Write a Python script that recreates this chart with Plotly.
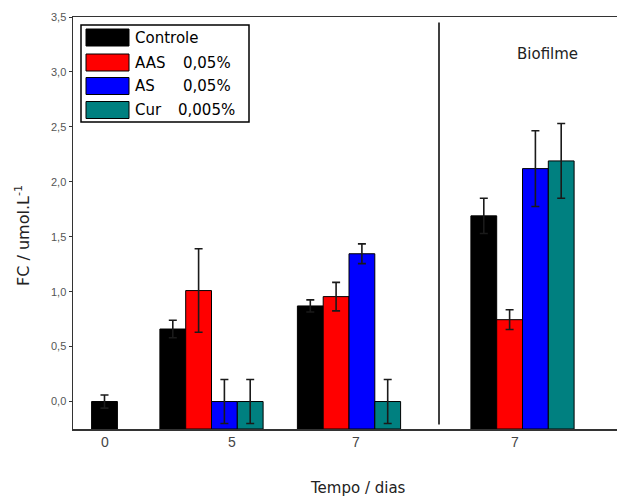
import plotly.graph_objects as go

# ---------------- data ----------------
group_labels = ["0", "5", "7", "7"]
series_names = ["Controle", "AAS", "AS", "Cur"]
series_conc = ["", "0,05%", "0,05%", "0,005%"]
controle = [0.0, 0.66, 0.87, 1.69]
controle_err = [0.06, 0.08, 0.055, 0.16]
aas = [None, 1.01, 0.955, 0.745]
aas_err = [None, 0.38, 0.13, 0.09]
as_vals = [None, 0.0, 1.345, 2.12]
as_err = [None, 0.2, 0.09, 0.345]
cur = [None, 0.0, 0.0, 2.19]
cur_err = [None, 0.2, 0.2, 0.34]
y_ticks = [0.0, 0.5, 1.0, 1.5, 2.0, 2.5, 3.0, 3.5]
y_tick_text = ["0,0", "0,5", "1,0", "1,5", "2,0", "2,5", "3,0", "3,5"]

# ---------------- layout constants ----------------
W, H = 617, 498
ML, MT, MB = 73, 17, 69
PLOT_W = W - ML
PLOT_H = H - MT - MB
YMIN, YMAX = -0.25, 3.5
GROUP_CENTERS = [104.5, 211.5, 349.0, 522.5]
TICK_POS = [105, 232, 356, 515]
BAR_W = 25.8
DIVIDER_X = 439
COLORS = ["#000000", "#ff0000", "#0000ff", "#008080"]
FONT = "Liberation Sans, Arial, sans-serif"
TFONT = "DejaVu Sans, Verdana, sans-serif"

values = [controle, aas, as_vals, cur]
errors = [controle_err, aas_err, as_err, cur_err]


def py(px):
    return (H - MB - px) / PLOT_H


def pxp(px):
    return (px - ML) / PLOT_W


fig = go.Figure()

for si, (vals, errs) in enumerate(zip(values, errors)):
    xs, hs, es = [], [], []
    for gi, v in enumerate(vals):
        if v is None:
            continue
        present = [k for k in range(len(values)) if values[k][gi] is not None]
        idx = present.index(si)
        off = (idx - (len(present) - 1) / 2) * BAR_W
        xs.append(GROUP_CENTERS[gi] + off)
        hs.append(v - YMIN)
        es.append(errs[gi])
    fig.add_trace(go.Bar(
        x=xs, y=hs, base=YMIN, width=BAR_W,
        marker=dict(color=COLORS[si], line=dict(color="#000000", width=1)),
        error_y=dict(type="data", array=es, visible=True, color="#1a1a1a",
                     thickness=1.6, width=4),
        showlegend=False, name=series_names[si], hoverinfo="skip",
    ))

fig.update_layout(
    width=W, height=H,
    margin=dict(l=ML, r=0, t=MT, b=MB),
    paper_bgcolor="white", plot_bgcolor="white",
    barmode="overlay",
    font=dict(family=FONT, color="#333333"),
    xaxis=dict(range=[ML, W], showgrid=False, zeroline=False,
               tickmode="array", tickvals=TICK_POS, ticktext=group_labels,
               ticks="", showline=True, linecolor="#333333", linewidth=1.5,
               mirror=True, tickfont=dict(size=14, color="#444444")),
    yaxis=dict(range=[YMIN, YMAX], showgrid=False, zeroline=False,
               tickmode="array", tickvals=y_ticks, ticktext=y_tick_text,
               ticks="outside", ticklen=3, tickwidth=1, tickcolor="#333333",
               showline=True, linecolor="#333333", linewidth=1.5,
               tickfont=dict(size=11, color="#555555")),
)

fig.add_shape(type="line", xref="x", yref="y", x0=DIVIDER_X, x1=DIVIDER_X,
              y0=3.45, y1=-0.21, line=dict(color="#000000", width=1.5))

fig.add_annotation(x=547, y=3.16, xref="x", yref="y", text="Biofilme",
                   showarrow=False, font=dict(family=TFONT, size=15, color="#222222"))

fig.add_annotation(x=pxp(358), y=py(488), xref="paper", yref="paper",
                   text="Tempo / dias", showarrow=False,
                   xanchor="center", yanchor="middle",
                   font=dict(family=TFONT, size=15, color="#222222"))
fig.add_annotation(x=pxp(22), y=py(236), xref="paper", yref="paper",
                   text="FC / umol.L<sup>-1</sup>", textangle=-90,
                   xanchor="center", yanchor="middle",
                   showarrow=False, font=dict(family=TFONT, size=16, color="#222222"))

fig.add_annotation(x=pxp(310), y=py(0), xref="paper", yref="paper",
                   text="<b>g</b>", showarrow=False, yanchor="bottom",
                   font=dict(size=20, color="#000000"))

fig.add_shape(type="rect", xref="paper", yref="paper", x0=pxp(81), x1=pxp(249),
              y0=py(122), y1=py(25), line=dict(color="#000000", width=1.5),
              fillcolor="white", layer="above")
row_centers = [37.5, 62.5, 86, 110]
for i, rc in enumerate(row_centers):
    fig.add_shape(type="rect", xref="paper", yref="paper", x0=pxp(86), x1=pxp(129),
                  y0=py(rc + 8.5), y1=py(rc - 8.5),
                  line=dict(color="#000000", width=1), fillcolor=COLORS[i],
                  layer="above")
    fig.add_annotation(x=pxp(133), y=py(rc), xref="paper", yref="paper",
                       text=series_names[i], xanchor="left", yanchor="middle",
                       showarrow=False, font=dict(family=TFONT, size=15, color="#000000"))
    if series_conc[i]:
        fig.add_annotation(x=pxp(181 if i < 3 else 176), y=py(rc), xref="paper",
                           yref="paper", text=series_conc[i], xanchor="left",
                           yanchor="middle", showarrow=False,
                           font=dict(family=TFONT, size=15, color="#000000"))

fig.write_html(
    "out.html",
    config={"displayModeBar": False, "staticPlot": True},
    post_script="document.body.style.margin='0';document.body.style.overflow='hidden';",
)
